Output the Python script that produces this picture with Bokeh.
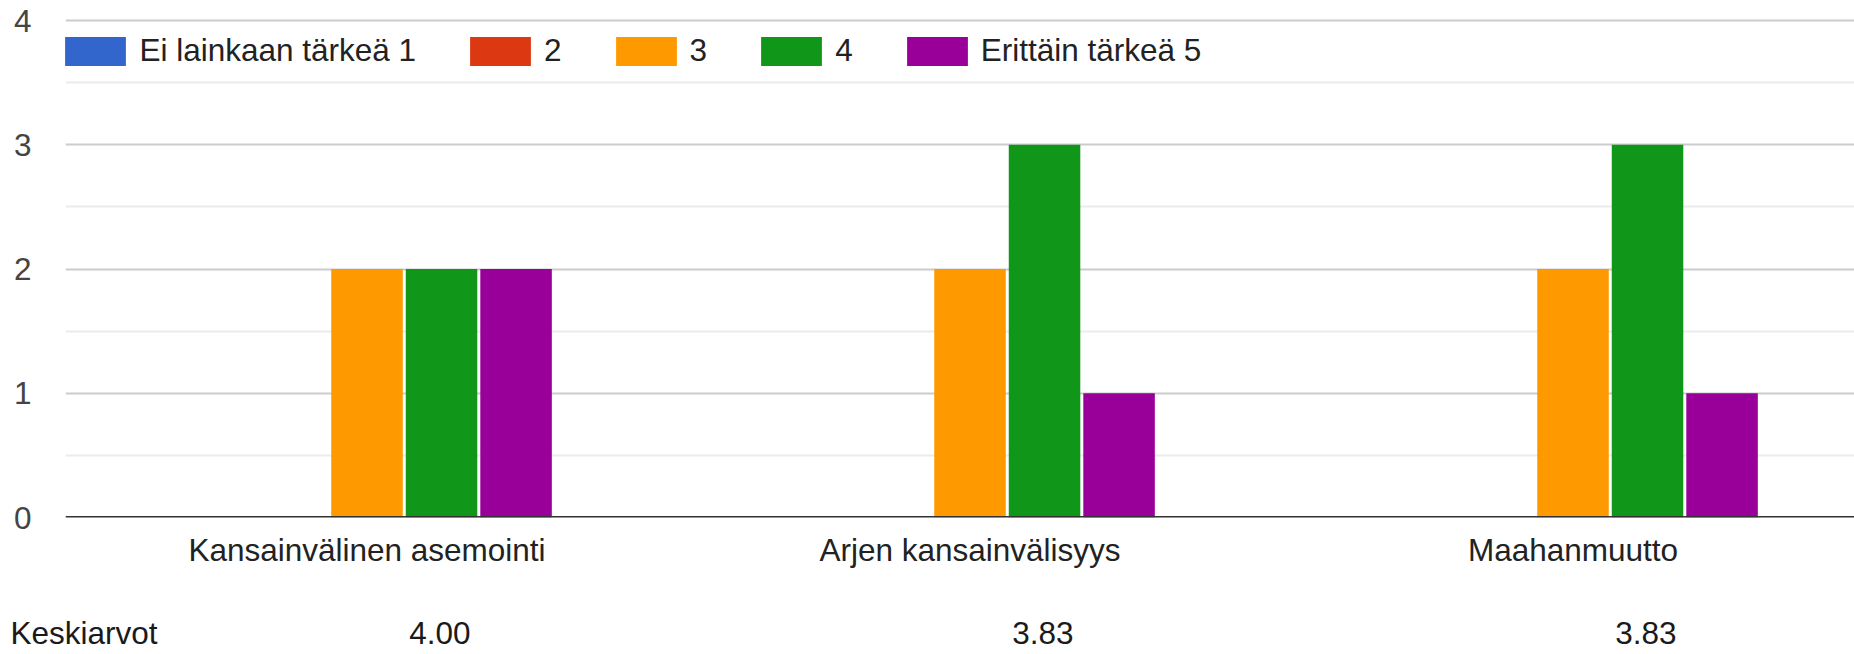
from bokeh.plotting import figure
from bokeh.models import Range1d, FixedTicker, Span, Legend, LegendItem, LinearAxis
from bokeh.embed import file_html
from bokeh.resources import INLINE

# ---- data ----
categories = ["Kansainvälinen asemointi", "Arjen kansainvälisyys", "Maahanmuutto"]
series_names = ["Ei lainkaan tärkeä 1", "2", "3", "4", "Erittäin tärkeä 5"]
counts_1 = [0, 0, 0]
counts_2 = [0, 0, 0]
counts_3 = [2, 2, 2]
counts_4 = [2, 3, 3]
counts_5 = [2, 1, 1]
means = [4.00, 3.83, 3.83]
mean_row_label = "Keskiarvot"
y_ticks = [0, 1, 2, 3, 4]
y_minor_ticks = [0.5, 1.5, 2.5, 3.5]

# ---- style ----
colors = ["#3366cc", "#dc3912", "#ff9900", "#109618", "#990099"]
FONT = "Liberation Sans"
FS = "31.5px"
W, H = 1854, 654
LEFT, TOP, BOTTOM = 65, 18, 137
frame_w = W - LEFT
frame_h = H - TOP - BOTTOM
cat_px = 603.0
px_per_unit = 124.25
pitch = 0.618 / 5
bar_w = pitch - 3.0 / cat_px
mean_offset = 0.121            # mean row cell offset from category centre
row_label_pos = 18.5 / cat_px  # centre of the row title, from frame left

p = figure(width=W, height=H, output_backend="svg", toolbar_location=None,
           x_range=Range1d(0, frame_w / cat_px),
           y_range=Range1d(0, frame_h / px_per_unit),
           min_border_left=LEFT, min_border_right=0, min_border_top=TOP,
           min_border_bottom=BOTTOM, tools="")
p.outline_line_color = None
p.background_fill_color = "white"
p.border_fill_color = "white"

all_counts = [counts_1, counts_2, counts_3, counts_4, counts_5]
items = []
for k, (name, vals) in enumerate(zip(series_names, all_counts)):
    xs = [i + 0.5 + (k - 2) * pitch for i in range(len(categories))]
    r = p.vbar(x=xs, top=vals, width=bar_w, bottom=0, fill_color=colors[k],
               line_color=None)
    items.append(LegendItem(label=name, renderers=[r]))

# category axis
cat_ticks = [i + 0.5 for i in range(len(categories))]
p.xaxis.ticker = FixedTicker(ticks=cat_ticks)
p.xaxis.major_label_overrides = {t: c for t, c in zip(cat_ticks, categories)}
p.xaxis.axis_line_color = None
p.xaxis.major_tick_line_color = None
p.xaxis.minor_tick_line_color = None
p.xaxis.major_label_text_font = FONT
p.xaxis.major_label_text_font_size = FS
p.xaxis.major_label_text_color = "#222222"
p.xaxis.major_label_standoff = 8

# means row as a second axis
mean_ticks = [row_label_pos] + [i + 0.5 + mean_offset for i in range(len(means))]
mean_labels = [mean_row_label] + [f"{m:.2f}" for m in means]
mean_axis = LinearAxis(ticker=FixedTicker(ticks=mean_ticks),
                       major_label_overrides={t: s for t, s in zip(mean_ticks, mean_labels)},
                       axis_line_color=None, major_tick_line_color=None,
                       minor_tick_line_color=None, major_label_text_font=FONT,
                       major_label_text_font_size=FS, major_label_text_color="#1a1a1a",
                       major_label_standoff=38)
p.add_layout(mean_axis, "below")

p.yaxis.ticker = FixedTicker(ticks=y_ticks, minor_ticks=y_minor_ticks)
p.yaxis.axis_line_color = None
p.yaxis.major_tick_line_color = None
p.yaxis.minor_tick_line_color = None
p.yaxis.major_label_text_font = FONT
p.yaxis.major_label_text_font_size = FS
p.yaxis.major_label_text_color = "#444444"
p.yaxis.major_label_standoff = 28

p.xgrid.grid_line_color = None
p.ygrid.grid_line_color = "#cccccc"
p.ygrid.grid_line_width = 2
p.ygrid.minor_grid_line_color = "#ebebeb"
p.ygrid.minor_grid_line_width = 2

p.add_layout(Span(location=0, dimension="width", line_color="#333333", line_width=3))

# legend
legend = Legend(items=items, orientation="horizontal", location=(-7.6, 448),
                glyph_width=76, glyph_height=36, label_standoff=6, spacing=46,
                label_width=0, padding=0, margin=0, border_line_color=None,
                background_fill_alpha=0, label_text_font=FONT,
                label_text_font_size=FS, label_text_color="#222222")
p.add_layout(legend, "center")

open("out.html", "w").write(file_html(p, INLINE))
